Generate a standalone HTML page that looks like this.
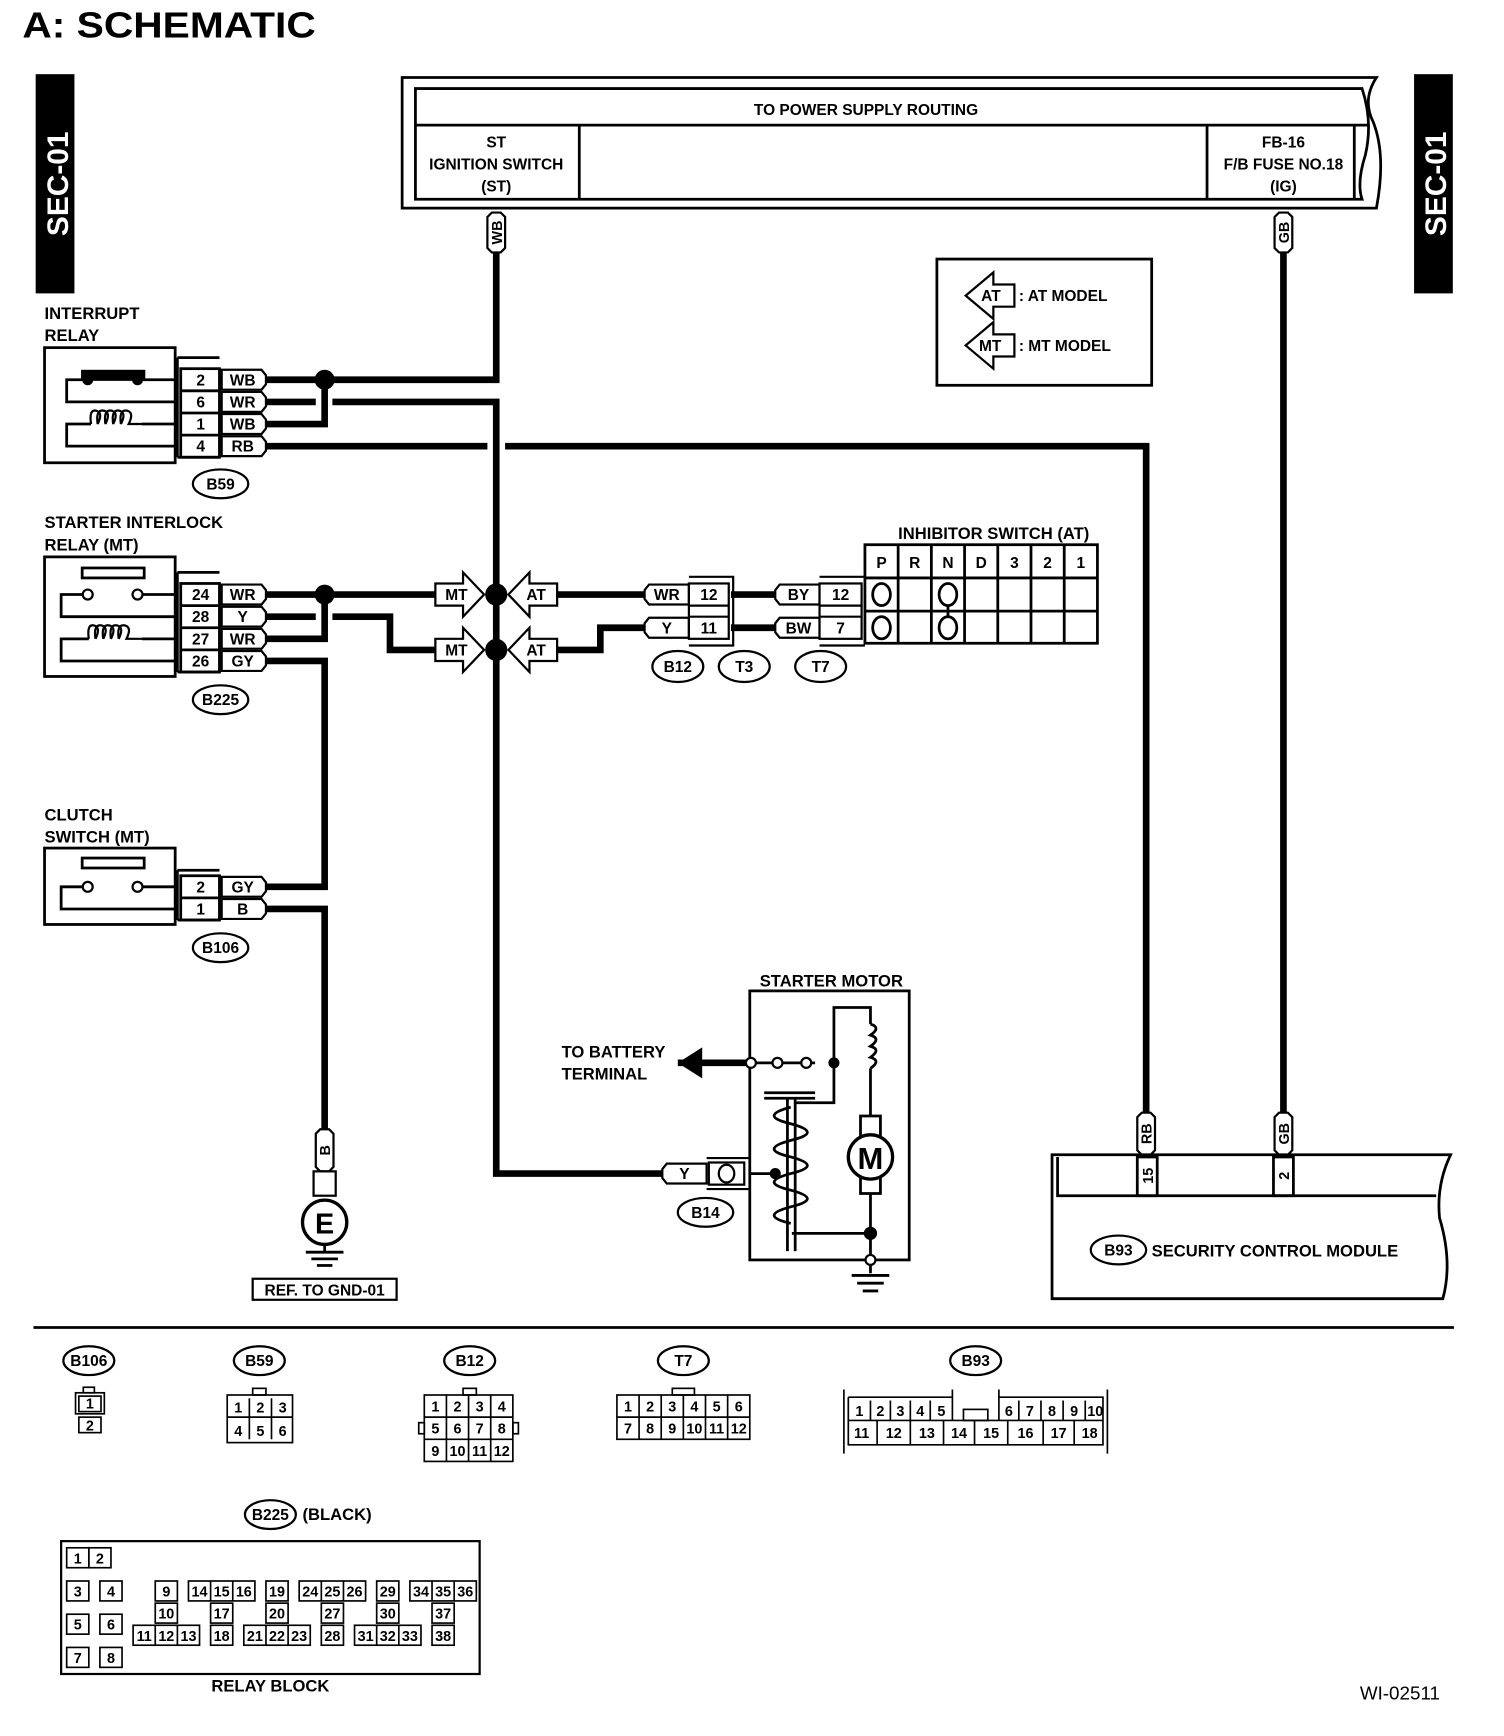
<!DOCTYPE html>
<html><head><meta charset="utf-8"><style>
html,body{margin:0;padding:0;background:#fff}
svg{display:block}
text{font-family:"Liberation Sans",Arial,sans-serif;font-weight:bold;fill:#000}
</style></head><body>
<svg width="1504" height="1736" viewBox="0 0 1358 1568" xmlns="http://www.w3.org/2000/svg">
<defs>
<g id="ptab"><path d="M-20,-9 H16 L20,-4 V4 L16,9 H-20 L-20,-9 Z" fill="#fff" stroke="#000" stroke-width="2"/></g>
</defs>
<text x="20" y="34" font-size="33" textLength="265" lengthAdjust="spacingAndGlyphs">A:  SCHEMATIC</text>
<!-- SEC bars -->
<rect x="32" y="67" width="35" height="198" fill="#000"/>
<text transform="translate(61,166) rotate(-90)" text-anchor="middle" font-size="27" style="fill:#fff">SEC-01</text>
<rect x="1277" y="67" width="35" height="198" fill="#000"/>
<text transform="translate(1306,166) rotate(-90)" text-anchor="middle" font-size="27" style="fill:#fff">SEC-01</text>

<!-- top box -->
<g fill="none" stroke="#000" stroke-width="2.5">
<path d="M363,70 H1243 Q1230,90 1240,110 Q1252,140 1243,188 H363 Z"/>
<path d="M375,80 H1230 Q1240,110 1233,140 Q1225,165 1230,180 H375 Z"/>
<line x1="375" y1="113" x2="1237" y2="113"/>
<line x1="523" y1="113" x2="523" y2="180"/>
<line x1="1090" y1="113" x2="1090" y2="180"/>
<line x1="1223" y1="113" x2="1223" y2="180"/>
</g>
<g font-size="14" text-anchor="middle">
<text x="782" y="104">TO POWER SUPPLY ROUTING</text>
<text x="448" y="133">ST</text><text x="448" y="153">IGNITION SWITCH</text><text x="448" y="173">(ST)</text>
<text x="1159" y="133">FB-16</text><text x="1159" y="153">F/B FUSE NO.18</text><text x="1159" y="173">(IG)</text>
</g>

<!-- wires -->
<g fill="none" stroke="#000" stroke-width="6">
<path d="M448,228 V343 H240"/>
<path d="M293,343 V383 H240"/>
<path d="M240,363 H285"/>
<path d="M300,363 H448 V1060 H598"/>
<path d="M240,403 H440"/>
<path d="M456,403 H1035 V1005"/>
<path d="M1159,228 V1005"/>
<path d="M240,537 H393"/>
<path d="M293,537 V577 H240"/>
<path d="M240,557 H285"/>
<path d="M300,557 H352 V587 H393"/>
<path d="M240,597 H293 V801 H240"/>
<path d="M240,821 H293 V1020"/>
<path d="M503,537 H582"/>
<path d="M503,587 H542 V567 H582"/>
<path d="M660,537 H700"/>
<path d="M660,567 H700"/>
<path d="M612,960 H677"/>
</g>
<path d="M612,960 L634,946 V974 Z" fill="#000"/>
<circle cx="293" cy="343" r="9"/><circle cx="293" cy="537" r="9"/>

<!-- vertical pills -->
<g stroke="#000" stroke-width="2" fill="#fff">
<path d="M440,196 L444,192 H452 L456,196 V224 L452,228 H444 L440,224 Z"/>
<path d="M1151,196 L1155,192 H1163 L1167,196 V224 L1163,228 H1155 L1151,224 Z"/>
<path d="M1027,1009 L1031,1005 H1039 L1043,1009 V1039 L1039,1043 H1031 L1027,1039 Z"/>
<path d="M1151,1009 L1155,1005 H1163 L1167,1009 V1039 L1163,1043 H1155 L1151,1039 Z"/>
<path d="M285,1024 L289,1020 H297 L301,1024 V1054 L297,1058 H289 L285,1054 Z"/>
</g>
<g font-size="13" text-anchor="middle">
<text transform="translate(453,210) rotate(-90)">WB</text>
<text transform="translate(1164,210) rotate(-90)">GB</text>
<text transform="translate(1040,1024) rotate(-90)">RB</text>
<text transform="translate(1164,1024) rotate(-90)">GB</text>
<text transform="translate(298,1039) rotate(-90)">B</text>
</g>

<!-- relay boxes -->
<g fill="none" stroke="#000" stroke-width="2.5">
<rect x="40" y="314" width="118" height="104"/>
<path d="M160,323 H198 M160,323 V413 M160,413 H198"/>
<rect x="163" y="333" width="35" height="80"/>
<line x1="163" y1="353" x2="198" y2="353"/><line x1="163" y1="373" x2="198" y2="373"/><line x1="163" y1="393" x2="198" y2="393"/>
<path d="M158,363 H60 V343 H75 M124,343 H158"/>
<path d="M158,403 H60 V383 H82 M128,383 H158"/>
<path d="M82,383 q-2,-14 5,-12 q6,2 1,12 M88,383 q-2,-14 6,-12 q6,2 1,12 M95,383 q-2,-14 6,-12 q6,2 1,12 M102,383 q-2,-14 6,-12 q6,2 1,12 M109,383 q-2,-14 6,-12 q6,2 1,12 q3,0 12,0" stroke-width="2"/>

<rect x="40" y="503" width="118" height="108"/>
<path d="M160,517 H198 M160,517 V607 M160,607 H198"/>
<rect x="163" y="527" width="35" height="80"/>
<line x1="163" y1="547" x2="198" y2="547"/><line x1="163" y1="567" x2="198" y2="567"/><line x1="163" y1="587" x2="198" y2="587"/>
<rect x="74" y="513" width="56" height="9"/>
<path d="M158,557 H55 V537 H74 M129,537 H158"/>
<path d="M158,597 H55 V577 H80 M128,577 H158"/>
<path d="M80,577 q-2,-14 5,-12 q6,2 1,12 M86,577 q-2,-14 6,-12 q6,2 1,12 M93,577 q-2,-14 6,-12 q6,2 1,12 M100,577 q-2,-14 6,-12 q6,2 1,12 M107,577 q-2,-14 6,-12 q6,2 1,12 q3,0 14,0" stroke-width="2"/>

<rect x="40" y="766" width="118" height="69"/>
<path d="M160,786 H198 M160,786 V831 M160,831 H198"/>
<rect x="163" y="791" width="35" height="40"/>
<line x1="163" y1="811" x2="198" y2="811"/>
<rect x="74" y="775" width="56" height="9"/>
<path d="M158,821 H55 V801 H74 M129,801 H158"/>
</g>
<rect x="73" y="334" width="58" height="10"/>
<circle cx="79" cy="343" r="5"/><circle cx="124" cy="343" r="5"/>
<g fill="#fff" stroke="#000" stroke-width="2">
<circle cx="79" cy="537" r="4.5"/><circle cx="124" cy="537" r="4.5"/>
<circle cx="79" cy="801" r="4.5"/><circle cx="124" cy="801" r="4.5"/>
</g>
<g>
<use href="#ptab" x="220" y="343"/><use href="#ptab" x="220" y="363"/><use href="#ptab" x="220" y="383"/><use href="#ptab" x="220" y="403"/>
<use href="#ptab" x="220" y="537"/><use href="#ptab" x="220" y="557"/><use href="#ptab" x="220" y="577"/><use href="#ptab" x="220" y="597"/>
<use href="#ptab" x="220" y="801"/><use href="#ptab" x="220" y="821"/>
</g>
<g font-size="14" text-anchor="middle">
<text x="181" y="348">2</text><text x="181" y="368">6</text><text x="181" y="388">1</text><text x="181" y="408">4</text>
<text x="219" y="348">WB</text><text x="219" y="368">WR</text><text x="219" y="388">WB</text><text x="219" y="408">RB</text>
<text x="181" y="542">24</text><text x="181" y="562">28</text><text x="181" y="582">27</text><text x="181" y="602">26</text>
<text x="219" y="542">WR</text><text x="219" y="562">Y</text><text x="219" y="582">WR</text><text x="219" y="602">GY</text>
<text x="181" y="806">2</text><text x="181" y="826">1</text>
<text x="219" y="806">GY</text><text x="219" y="826">B</text>
</g>
<g font-size="15">
<text x="40" y="288">INTERRUPT</text><text x="40" y="308">RELAY</text>
<text x="40" y="477">STARTER INTERLOCK</text><text x="40" y="497">RELAY (MT)</text>
<text x="40" y="741">CLUTCH</text><text x="40" y="761">SWITCH (MT)</text>
<text x="686" y="891">STARTER MOTOR</text>
<text x="507" y="955">TO BATTERY</text><text x="507" y="975">TERMINAL</text>
<text x="811" y="487">INHIBITOR SWITCH (AT)</text>
</g>
<g fill="#fff" stroke="#000" stroke-width="2">
<ellipse cx="199" cy="437" rx="25" ry="13"/><ellipse cx="199" cy="632" rx="25" ry="13"/><ellipse cx="199" cy="856" rx="25" ry="13"/>
<ellipse cx="612" cy="602" rx="23" ry="14"/><ellipse cx="672" cy="602" rx="23" ry="14"/><ellipse cx="741" cy="602" rx="23" ry="14"/>
<ellipse cx="637" cy="1095" rx="25" ry="13"/><ellipse cx="1010" cy="1129" rx="25" ry="13"/>
</g>
<g font-size="14" text-anchor="middle">
<text x="199" y="442">B59</text><text x="199" y="637">B225</text><text x="199" y="861">B106</text>
<text x="612" y="607">B12</text><text x="672" y="607">T3</text><text x="741" y="607">T7</text>
<text x="637" y="1100">B14</text><text x="1010" y="1134">B93</text>
</g>

<g fill="#fff" stroke="#000" stroke-width="2">
<path d="M393,527 H418 V517 L437,537 L418,557 V547 H393 Z"/>
<path d="M503,527 H478 V517 L459,537 L478,557 V547 H503 Z"/>
<path d="M393,577 H418 V567 L437,587 L418,607 V597 H393 Z"/>
<path d="M503,577 H478 V567 L459,587 L478,607 V597 H503 Z"/>
</g>
<g font-size="14" text-anchor="middle">
<text x="412" y="542">MT</text><text x="484" y="542">AT</text><text x="412" y="592">MT</text><text x="484" y="592">AT</text>
</g>
<circle cx="448" cy="537" r="10"/><circle cx="448" cy="587" r="10"/>

<g fill="#fff" stroke="#000" stroke-width="2">
<path d="M586,528 H622 V546 H586 L582,541 V533 Z"/>
<path d="M586,558 H622 V576 H586 L582,571 V563 Z"/>
<path d="M704,528 H740 V546 H704 L700,541 V533 Z"/>
<path d="M704,558 H740 V576 H704 L700,571 V563 Z"/>
<rect x="622" y="527" width="36" height="50"/>
<line x1="622" y1="547" x2="658" y2="547"/><line x1="622" y1="557" x2="658" y2="557"/>
<rect x="740" y="527" width="38" height="50"/>
<line x1="740" y1="547" x2="778" y2="547"/><line x1="740" y1="557" x2="778" y2="557"/>
</g>
<g fill="none" stroke="#000" stroke-width="2">
<path d="M622,521 H662 V583 H622"/><path d="M740,521 H781 M740,583 H781"/>
</g>
<g font-size="14" text-anchor="middle">
<text x="602" y="542">WR</text><text x="602" y="572">Y</text><text x="640" y="542">12</text><text x="640" y="572">11</text>
<text x="721" y="542">BY</text><text x="721" y="572">BW</text><text x="759" y="542">12</text><text x="759" y="572">7</text>
</g>
<g fill="none" stroke="#000" stroke-width="2.5">
<rect x="781" y="492" width="210" height="89"/>
<line x1="781" y1="522" x2="991" y2="522"/><line x1="781" y1="552" x2="991" y2="552"/>
<line x1="811" y1="492" x2="811" y2="581"/><line x1="841" y1="492" x2="841" y2="581"/><line x1="871" y1="492" x2="871" y2="581"/>
<line x1="901" y1="492" x2="901" y2="581"/><line x1="931" y1="492" x2="931" y2="581"/><line x1="961" y1="492" x2="961" y2="581"/>
<ellipse cx="796" cy="537" rx="8" ry="10"/><ellipse cx="796" cy="567" rx="8" ry="10"/>
<ellipse cx="856" cy="537" rx="8" ry="10"/><ellipse cx="856" cy="567" rx="8" ry="10"/>
<line x1="856" y1="547" x2="856" y2="557"/>
</g>
<g font-size="14" text-anchor="middle">
<text x="796" y="513">P</text><text x="826" y="513">R</text><text x="856" y="513">N</text><text x="886" y="513">D</text><text x="916" y="513">3</text><text x="946" y="513">2</text><text x="976" y="513">1</text>
</g>

<rect x="846" y="234" width="194" height="114" fill="none" stroke="#000" stroke-width="2.5"/>
<g fill="#fff" stroke="#000" stroke-width="2">
<path d="M916,257 H897 V246 L872,267 L897,288 V277 H916 Z"/>
<path d="M916,302 H897 V291 L872,312 L897,333 V322 H916 Z"/>
</g>
<g font-size="14"><text x="886" y="272">AT</text><text x="884" y="317">MT</text>
<text x="920" y="272">: AT MODEL</text><text x="920" y="317">: MT MODEL</text></g>

<rect x="283" y="1058" width="20" height="22" fill="#fff" stroke="#000" stroke-width="2"/>
<circle cx="293" cy="1104" r="20" fill="#fff" stroke="#000" stroke-width="3"/>
<text x="293" y="1114" font-size="26" text-anchor="middle">E</text>
<g stroke="#000" stroke-width="2.5"><line x1="293" y1="1124" x2="293" y2="1130"/><line x1="276" y1="1131" x2="310" y2="1131"/><line x1="281" y1="1137" x2="305" y2="1137"/><line x1="286" y1="1143" x2="300" y2="1143"/></g>
<rect x="228" y="1155" width="130" height="19" fill="none" stroke="#000" stroke-width="2"/>
<text x="293" y="1170" font-size="14" text-anchor="middle">REF. TO GND-01</text>

<g fill="none" stroke="#000" stroke-width="2.5">
<rect x="677" y="895" width="144" height="243"/>
<path d="M753,960 V910 H786 V925"/>
<path d="M786,925 q10,3 0,10 q10,3 0,10 q10,3 0,10 q10,3 0,10"/>
<path d="M786,965 V1008"/>
<rect x="777" y="1008" width="18" height="70"/>
<path d="M786,1078 V1138"/>
<path d="M786,1114 H715"/>
<path d="M753,960 V996 H718"/>
<path d="M677,1060 H700"/>
<path d="M690,987 H736 M690,992 H736" />
<path d="M711,992 V1130 M718,992 V1130"/>
<path d="M714,1000 q-30,8 0,15 q30,8 0,15 q-30,8 0,15 q30,8 0,15 q-30,8 0,15 q30,8 0,15 q-30,8 0,15"/>
<path d="M677,960 H736"/>
<path d="M786,1138 V1150 M769,1152 H803 M774,1159 H798 M779,1166 H793"/>
</g>
<circle cx="786" cy="1045" r="20" fill="#fff" stroke="#000" stroke-width="3"/>
<text x="786" y="1056" font-size="28" text-anchor="middle">M</text>
<g fill="#fff" stroke="#000" stroke-width="2">
<circle cx="678" cy="960" r="4.5"/><circle cx="702" cy="960" r="4.5"/><circle cx="728" cy="960" r="4.5"/><circle cx="786" cy="1138" r="4.5"/>
</g>
<circle cx="753" cy="960" r="5"/><circle cx="700" cy="1060" r="5"/><circle cx="786" cy="1114" r="6"/>
<g fill="#fff" stroke="#000" stroke-width="2">
<path d="M602,1051 H638 V1069 H602 L598,1064 V1056 Z"/>
<rect x="640" y="1050" width="32" height="20"/>
<ellipse cx="656" cy="1060" rx="7" ry="8"/>
</g>
<path d="M638,1046 H677 M638,1074 H677" stroke="#000" stroke-width="2"/>
<text x="618" y="1065" font-size="14" text-anchor="middle">Y</text>

<g fill="none" stroke="#000" stroke-width="2.5">
<path d="M950,1043 H1310 Q1297,1070 1300,1100 Q1312,1140 1303,1173 H950 Z"/>
<path d="M955,1045 V1080 H1297"/>
<rect x="1027" y="1045" width="18" height="35"/><rect x="1150" y="1045" width="18" height="35"/>
</g>
<g font-size="13" text-anchor="middle">
<text transform="translate(1041,1062) rotate(-90)">15</text>
<text transform="translate(1164,1062) rotate(-90)">2</text>
</g>
<text x="1040" y="1135" font-size="15">SECURITY CONTROL MODULE</text>

<line x1="30" y1="1199" x2="1313" y2="1199" stroke="#000" stroke-width="2.5"/>

<g fill="#fff" stroke="#000" stroke-width="2">
<ellipse cx="80" cy="1229" rx="23" ry="13"/><ellipse cx="234" cy="1229" rx="23" ry="13"/><ellipse cx="424" cy="1229" rx="23" ry="13"/>
<ellipse cx="617" cy="1229" rx="23" ry="13"/><ellipse cx="881" cy="1229" rx="23" ry="13"/><ellipse cx="244" cy="1368" rx="23" ry="13"/>
</g>
<g font-size="14" text-anchor="middle">
<text x="80" y="1234">B106</text><text x="234" y="1234">B59</text><text x="424" y="1234">B12</text><text x="617" y="1234">T7</text><text x="881" y="1234">B93</text><text x="244" y="1373">B225</text>
</g>
<text x="273" y="1373" font-size="15">(BLACK)</text>
<g fill="none" stroke="#000" stroke-width="1.5">
<rect x="75" y="1253" width="10" height="5"/>
<rect x="68" y="1258" width="26" height="19"/><rect x="71" y="1261" width="20" height="14"/>
<rect x="71" y="1280" width="20" height="14"/>
<rect x="228" y="1254" width="12" height="6"/>
<rect x="205" y="1260" width="59" height="43"/>
<line x1="205" y1="1280" x2="264" y2="1280"/><line x1="225" y1="1263" x2="225" y2="1300"/><line x1="245" y1="1263" x2="245" y2="1300"/>
<rect x="418" y="1254" width="12" height="6"/>
<rect x="383" y="1260" width="80" height="60"/><rect x="378" y="1285" width="5" height="10"/><rect x="463" y="1285" width="5" height="10"/>
<line x1="383" y1="1280" x2="463" y2="1280"/><line x1="383" y1="1300" x2="463" y2="1300"/>
<line x1="403" y1="1260" x2="403" y2="1320"/><line x1="423" y1="1260" x2="423" y2="1320"/><line x1="443" y1="1260" x2="443" y2="1320"/>
<rect x="607" y="1254" width="20" height="6"/>
<rect x="557" y="1260" width="120" height="40"/><line x1="557" y1="1280" x2="677" y2="1280"/>
<line x1="577" y1="1260" x2="577" y2="1300"/><line x1="597" y1="1260" x2="597" y2="1300"/><line x1="617" y1="1260" x2="617" y2="1300"/><line x1="637" y1="1260" x2="637" y2="1300"/><line x1="657" y1="1260" x2="657" y2="1300"/>
<path d="M762,1255 V1313 M1000,1255 V1313 M766,1262 H860 V1255 M766,1262 V1305 H996 V1262 H902 V1255"/>
<line x1="766" y1="1283" x2="996" y2="1283"/>
<rect x="870" y="1273" width="22" height="10"/>
<line x1="786" y1="1265" x2="786" y2="1283"/><line x1="804" y1="1265" x2="804" y2="1283"/><line x1="822" y1="1265" x2="822" y2="1283"/><line x1="840" y1="1265" x2="840" y2="1283"/><line x1="860" y1="1262" x2="860" y2="1283"/>
<line x1="902" y1="1262" x2="902" y2="1283"/><line x1="920" y1="1265" x2="920" y2="1283"/><line x1="940" y1="1265" x2="940" y2="1283"/><line x1="960" y1="1265" x2="960" y2="1283"/><line x1="980" y1="1265" x2="980" y2="1283"/>
<line x1="792" y1="1283" x2="792" y2="1305"/><line x1="822" y1="1283" x2="822" y2="1305"/><line x1="852" y1="1283" x2="852" y2="1305"/><line x1="880" y1="1283" x2="880" y2="1305"/><line x1="910" y1="1283" x2="910" y2="1305"/><line x1="942" y1="1283" x2="942" y2="1305"/><line x1="970" y1="1283" x2="970" y2="1305"/>
</g>
<g font-size="13" text-anchor="middle">
<text x="81" y="1272">1</text><text x="81" y="1292">2</text>
<text x="215" y="1276">1</text><text x="235" y="1276">2</text><text x="255" y="1276">3</text><text x="215" y="1297">4</text><text x="235" y="1297">5</text><text x="255" y="1297">6</text>
<text x="393" y="1275">1</text><text x="413" y="1275">2</text><text x="433" y="1275">3</text><text x="453" y="1275">4</text>
<text x="393" y="1295">5</text><text x="413" y="1295">6</text><text x="433" y="1295">7</text><text x="453" y="1295">8</text>
<text x="393" y="1315">9</text><text x="413" y="1315">10</text><text x="433" y="1315">11</text><text x="453" y="1315">12</text>
<text x="567" y="1275">1</text><text x="587" y="1275">2</text><text x="607" y="1275">3</text><text x="627" y="1275">4</text><text x="647" y="1275">5</text><text x="667" y="1275">6</text>
<text x="567" y="1295">7</text><text x="587" y="1295">8</text><text x="607" y="1295">9</text><text x="627" y="1295">10</text><text x="647" y="1295">11</text><text x="667" y="1295">12</text>
<text x="776" y="1279">1</text><text x="795" y="1279">2</text><text x="813" y="1279">3</text><text x="831" y="1279">4</text><text x="850" y="1279">5</text>
<text x="911" y="1279">6</text><text x="930" y="1279">7</text><text x="950" y="1279">8</text><text x="970" y="1279">9</text><text x="989" y="1279">10</text>
<text x="778" y="1299">11</text><text x="807" y="1299">12</text><text x="837" y="1299">13</text><text x="866" y="1299">14</text><text x="895" y="1299">15</text><text x="926" y="1299">16</text><text x="956" y="1299">17</text><text x="984" y="1299">18</text>
</g>
<g fill="none" stroke="#000" stroke-width="1.5">
<rect x="55" y="1392" width="378" height="120" stroke-width="2"/>
<rect x="60" y="1398" width="20" height="18"/><rect x="80" y="1398" width="20" height="18"/>
<rect x="60" y="1428" width="20" height="18"/><rect x="90" y="1428" width="20" height="18"/>
<rect x="60" y="1458" width="20" height="18"/><rect x="90" y="1458" width="20" height="18"/>
<rect x="60" y="1488" width="20" height="18"/><rect x="90" y="1488" width="20" height="18"/>
<rect x="140" y="1428" width="20" height="18"/><rect x="140" y="1448" width="20" height="18"/>
<rect x="120" y="1468" width="60" height="18"/><line x1="140" y1="1468" x2="140" y2="1486"/><line x1="160" y1="1468" x2="160" y2="1486"/>
<rect x="170" y="1428" width="60" height="18"/><line x1="190" y1="1428" x2="190" y2="1446"/><line x1="210" y1="1428" x2="210" y2="1446"/>
<rect x="190" y="1448" width="20" height="18"/><rect x="190" y="1468" width="20" height="18"/>
<rect x="240" y="1428" width="20" height="18"/><rect x="240" y="1448" width="20" height="18"/>
<rect x="220" y="1468" width="60" height="18"/><line x1="240" y1="1468" x2="240" y2="1486"/><line x1="260" y1="1468" x2="260" y2="1486"/>
<rect x="270" y="1428" width="60" height="18"/><line x1="290" y1="1428" x2="290" y2="1446"/><line x1="310" y1="1428" x2="310" y2="1446"/>
<rect x="290" y="1448" width="20" height="18"/><rect x="290" y="1468" width="20" height="18"/>
<rect x="340" y="1428" width="20" height="18"/><rect x="340" y="1448" width="20" height="18"/>
<rect x="320" y="1468" width="60" height="18"/><line x1="340" y1="1468" x2="340" y2="1486"/><line x1="360" y1="1468" x2="360" y2="1486"/>
<rect x="370" y="1428" width="60" height="18"/><line x1="390" y1="1428" x2="390" y2="1446"/><line x1="410" y1="1428" x2="410" y2="1446"/>
<rect x="390" y="1448" width="20" height="18"/><rect x="390" y="1468" width="20" height="18"/>
</g>
<g font-size="13" text-anchor="middle">
<text x="70" y="1412">1</text><text x="90" y="1412">2</text>
<text x="70" y="1442">3</text><text x="100" y="1442">4</text><text x="70" y="1472">5</text><text x="100" y="1472">6</text>
<text x="70" y="1502">7</text><text x="100" y="1502">8</text>
<text x="150" y="1442">9</text><text x="150" y="1462">10</text><text x="130" y="1482">11</text><text x="150" y="1482">12</text><text x="170" y="1482">13</text>
<text x="180" y="1442">14</text><text x="200" y="1442">15</text><text x="220" y="1442">16</text><text x="200" y="1462">17</text><text x="200" y="1482">18</text>
<text x="250" y="1442">19</text><text x="250" y="1462">20</text><text x="230" y="1482">21</text><text x="250" y="1482">22</text><text x="270" y="1482">23</text>
<text x="280" y="1442">24</text><text x="300" y="1442">25</text><text x="320" y="1442">26</text><text x="300" y="1462">27</text><text x="300" y="1482">28</text>
<text x="350" y="1442">29</text><text x="350" y="1462">30</text><text x="330" y="1482">31</text><text x="350" y="1482">32</text><text x="370" y="1482">33</text>
<text x="380" y="1442">34</text><text x="400" y="1442">35</text><text x="420" y="1442">36</text><text x="400" y="1462">37</text><text x="400" y="1482">38</text>
</g>
<text x="244" y="1528" font-size="15" text-anchor="middle">RELAY BLOCK</text>
<text x="1228" y="1535" font-size="17" style="font-weight:normal">WI-02511</text>
</svg>
</body></html>
